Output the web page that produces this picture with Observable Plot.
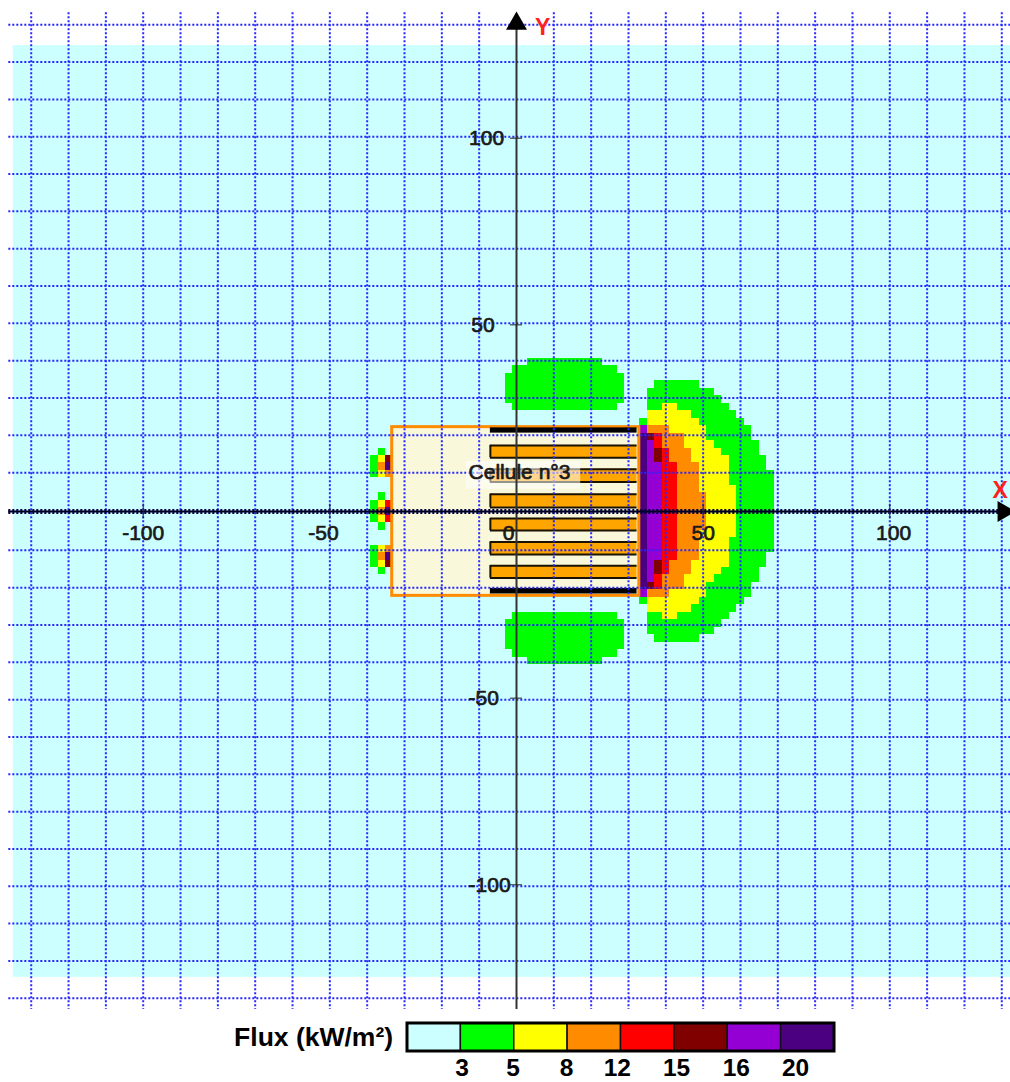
<!DOCTYPE html>
<html>
<head>
<meta charset="utf-8">
<script src="https://cdn.jsdelivr.net/npm/d3@7"></script>
<script src="https://cdn.jsdelivr.net/npm/@observablehq/plot@0.6"></script>
<style>
html,body{margin:0;padding:0;background:#fff;overflow:hidden}
svg{display:block}
</style>
</head>
<body>
<div id="chart"></div>
<div id="legend"></div>
<script>
// Flux classes
const CY="#ccffff",G="#00ff00",Y="#ffff00",O="#ff8c00",R="#ff0000",D="#800000",P="#9400d3",I="#4b0082";
const legendColors=[CY,G,Y,O,R,D,P,I];
const legendLabels=["3","5","8","12","15","16","20"];
const legendLabelPos=[1.02,1.98,2.98,3.93,5.04,6.16,7.27];

// Upper half of the right plume: [top of the 2 m row, runs [x1,x2,colour]]
const plumeRows=[
 [35,[[37,49,G]]],
 [33,[[35,53,G]]],
 [31,[[35,55,G]]],
 [29,[[35,39,G],[39,43,Y],[43,57,G]]],
 [27,[[35,47,Y],[47,59,G]]],
 [25,[[33,35,G],[35,49,Y],[49,61,G]]],
 [23,[[33,35,P],[35,41,O],[41,51,Y],[51,63,G]]],
 [21,[[33,35,I],[35,37,D],[37,39,R],[39,45,O],[45,51,Y],[51,63,G]]],
 [19,[[33,35,I],[35,37,P],[37,39,R],[39,45,O],[45,53,Y],[53,65,G]]],
 [17,[[33,35,I],[35,37,P],[37,39,D],[39,41,R],[41,47,O],[47,55,Y],[55,65,G]]],
 [15,[[33,35,I],[35,37,P],[37,39,D],[39,41,R],[41,47,O],[47,57,Y],[57,67,G]]],
 [13,[[33,35,I],[35,39,P],[39,43,R],[43,49,O],[49,57,Y],[57,67,G]]],
 [11,[[33,35,I],[35,39,P],[39,43,R],[43,49,O],[49,57,Y],[57,69,G]]],
 [9,[[33,35,I],[35,39,P],[39,43,R],[43,49,O],[49,57,Y],[57,69,G]]],
 [7,[[33,35,I],[35,39,P],[39,43,R],[43,49,O],[49,59,Y],[59,69,G]]],
 [5,[[33,35,I],[35,39,P],[39,43,R],[43,51,O],[51,59,Y],[59,69,G]]],
 [3,[[33,35,I],[35,39,P],[39,43,R],[43,51,O],[51,59,Y],[59,69,G]]],
 [1,[[33,35,I],[35,39,P],[39,43,R],[43,51,O],[51,59,Y],[59,69,G]]]
];
// Two green lobes above and below the cell
const lobeRows=[
 [41,[[3,23,G]]],
 [39,[[-1,27,G]]],
 [37,[[-3,29,G]]],
 [35,[[-3,29,G]]],
 [33,[[-3,29,G]]],
 [31,[[-3,29,G]]],
 [29,[[-1,27,G]]]
];
// Small patches at the left wall
const leftRows=[
 [17,[[-37,-35,G]]],
 [15,[[-39,-37,G],[-37,-35,Y],[-35,-33,D]]],
 [13,[[-39,-37,G],[-37,-35,O],[-35,-33,I]]],
 [11,[[-39,-37,G],[-37,-35,Y],[-35,-33,O]]],
 [5,[[-37,-35,G]]],
 [3,[[-39,-37,G],[-37,-35,Y],[-35,-33,R]]],
 [1,[[-39,-37,G],[-37,-35,O],[-35,-33,I]]]
];
// Cell outline and storage racks
const cell={x1:-33.3,x2:32.9,y1:-22.6,y2:22.6};
const racksTop=[17.7,11.3,4.6,-1.9,-8.2,-14.5];
const racksBottom=[14.4,7.9,1.1,-5.1,-11.5,-17.8];
const rackLeft=-7, rackRight=32.3;
const blackBarsTop=[22.4,-20.6];
const blackBarsBottom=[21,-22.1];

const xGrid=[-130,-120,-110,-100,-90,-80,-70,-60,-50,-40,-30,-20,-10,10,20,30,40,50,60,70,80,90,100,110,120,130];
const yGrid=[130.4,120.4,110.4,100.4,90.4,80.4,70.4,60.4,50.4,40.4,30.4,20.4,10.4,-10.4,-20.4,-30.4,-40.4,-50.4,-60.4,-70.4,-80.4,-90.4,-100.4,-110.4,-120.4,-130.4];
const xTicks=[-100,-50,50,100];
const yTicks=[100,50,-50,-100];
const xLabels=[["-100",-100],["-50",-51.7],["0",-2.1],["50",50],["100",101]];
const yLabels=[["100",100,-8],["50",50,-9],["-50",-50,-8.8],["-100",-100,-7.2]];

const k=3.733, W=1010, H=1014, ox=516, oy=511;
const mirror=rows=>rows.flatMap(([t,runs])=>{
  const up=runs.map(([a,b,c])=>({x1:a,x2:b,y1:t-2,y2:t,c}));
  const down=t===1?[]:runs.map(([a,b,c])=>({x1:a,x2:b,y1:-t,y2:-t+2,c}));
  return up.concat(down);
});
const cells=[...mirror(plumeRows),...mirror(lobeRows),...mirror(leftRows)];

const gridStyle={stroke:"#2626ff",strokeWidth:2,strokeDasharray:"2,2"};
const labelFont={fontFamily:"Liberation Sans, Arial, sans-serif"};
const tickText={...labelFont,fontSize:21,fill:"#1a1a1a",stroke:"#1a1a1a",strokeWidth:0.7};

const chart=Plot.plot({
  width:W,height:H,margin:0,
  style:{background:"#fff"},
  x:{domain:[-ox/k,(W-ox)/k],axis:null},
  y:{domain:[(oy-H)/k,oy/k],axis:null},
  color:{type:"identity"},
  marks:[
    Plot.rect([{x1:-134.8,x2:132.4,y1:-124.8,y2:124.8}],{x1:"x1",x2:"x2",y1:"y1",y2:"y2",fill:CY}),
    Plot.rect(cells,{x1:"x1",x2:"x2",y1:"y1",y2:"y2",fill:"c",shapeRendering:"crispEdges"}),
    Plot.rect([cell],{x1:"x1",x2:"x2",y1:"y1",y2:"y2",fill:"#f9f8da",stroke:O,strokeWidth:3}),
    Plot.rect(racksTop,{x1:rackLeft,x2:rackRight,y1:(d,i)=>racksBottom[i],y2:d=>d,fill:"#ffa500"}),
    Plot.ruleY(racksTop,{x1:rackLeft,x2:rackRight,stroke:"#1a1200",strokeWidth:2}),
    Plot.ruleY(racksBottom,{x1:rackLeft,x2:rackRight,stroke:"#1a1200",strokeWidth:2}),
    Plot.ruleX(racksTop,{x:rackLeft,y1:d=>d,y2:(d,i)=>racksBottom[i],stroke:"#1a1200",strokeWidth:2}),
    Plot.rect(blackBarsTop,{x1:rackLeft,x2:rackRight,y1:(d,i)=>blackBarsBottom[i],y2:d=>d,fill:"#000"}),
    Plot.ruleX(xGrid,{y1:133.6,y2:-133.4,...gridStyle}),
    Plot.ruleY(yGrid,{x1:-136,x2:133,...gridStyle}),
    Plot.rect([0],{x1:-13.4,x2:17.2,y1:6,y2:13.4,fill:"#fff",fillOpacity:0.55}),
    Plot.ruleX([0],{y1:130,y2:-133.4,stroke:"#333",strokeWidth:2}),
    Plot.ruleY([0],{x1:-136,x2:131,stroke:"#000",strokeWidth:2}),
    Plot.ruleY([0],{x1:-136,x2:131,stroke:"#000048",strokeWidth:5,strokeDasharray:"2,2"}),
    Plot.ruleX(xTicks,{y1:-2,y2:2,stroke:"#222",strokeWidth:1}),
    Plot.ruleY(yTicks,{x1:-1.6,x2:1.6,stroke:"#222",strokeWidth:1}),
    Plot.dot([0],{x:0,y:130.7,r:7.8,symbol:"triangle",fill:"#000"}),
    Plot.dot([0],{x:130.5,y:0,r:7.8,symbol:"triangle",fill:"#000",rotate:90}),
    Plot.text(["Y"],{x:7,y:129.6,text:d=>d,fill:"#ff2020",fontSize:23,fontWeight:"bold",...labelFont}),
    Plot.text(["X"],{x:129.6,y:5.6,text:d=>d,fill:"#ff2020",fontSize:23,fontWeight:"bold",...labelFont}),
    Plot.text(["Cellule n°3"],{x:0.8,y:10.4,text:d=>d,...tickText}),
    Plot.text(xLabels,{x:d=>d[1],y:-5.9,text:d=>d[0],...tickText}),
    Plot.text(yLabels,{x:d=>d[2],y:d=>d[1],text:d=>d[0],...tickText})
  ]
});
document.getElementById("chart").append(chart);

const cellsL=legendColors.map((c,i)=>({i,c}));
const legend=Plot.plot({
  width:W,height:68,margin:0,
  x:{domain:[0,8],range:[407,834],axis:null},
  y:{domain:[1,0],range:[9,37],axis:null},
  color:{type:"identity"},
  marks:[
    Plot.rect(cellsL,{x1:"i",x2:d=>d.i+1,y1:0,y2:1,fill:"c",stroke:"#111",strokeWidth:1.5}),
    Plot.rect([0],{x1:0,x2:8,y1:0,y2:1,fill:"none",stroke:"#000",strokeWidth:3}),
    Plot.text(legendLabels,{x:(d,i)=>legendLabelPos[i],y:-0.61,text:d=>d,fontSize:24.5,fontWeight:"bold",fill:"#000",...labelFont}),
    Plot.text(["Flux (kW/m²)"],{x:-0.27,y:0.5,text:d=>d,textAnchor:"end",fontSize:26.5,fontWeight:"bold",fill:"#000",...labelFont})
  ]
});
document.getElementById("legend").append(legend);
</script>
</body>
</html>
